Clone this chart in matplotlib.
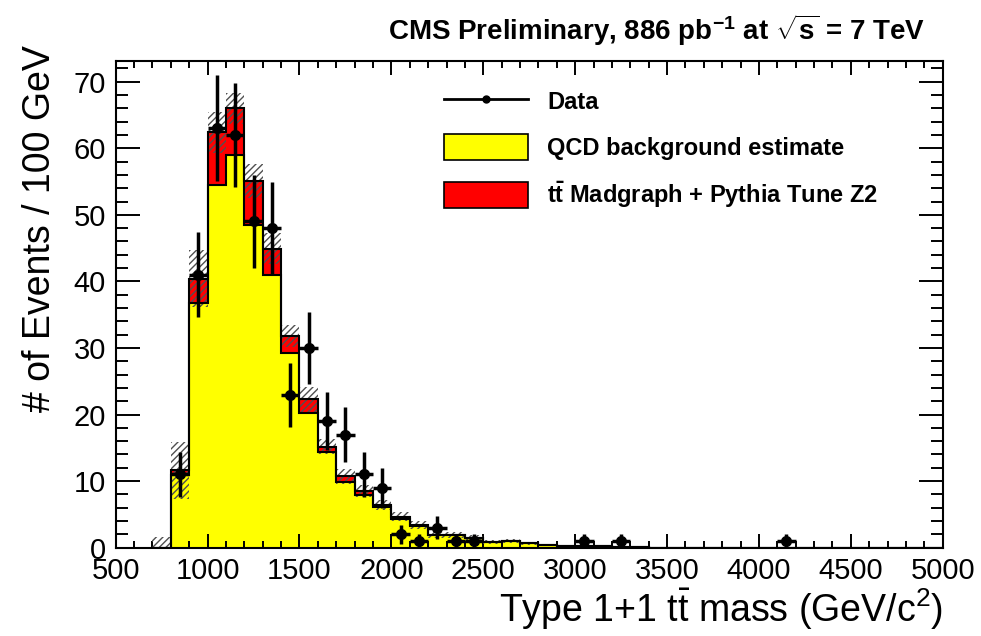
import numpy as np
import matplotlib
matplotlib.use("Agg")
import matplotlib.pyplot as plt
from matplotlib.patches import Patch
from matplotlib.lines import Line2D
from matplotlib.ticker import MultipleLocator

plt.rcParams['font.family'] = ['Liberation Sans', 'DejaVu Sans']
plt.rcParams['mathtext.fontset'] = 'custom'
plt.rcParams['mathtext.rm'] = 'Liberation Sans'
plt.rcParams['mathtext.it'] = 'Liberation Sans:italic'
plt.rcParams['mathtext.bf'] = 'Liberation Sans:bold'
plt.rcParams['hatch.linewidth'] = 1.0

# ---- data (bins of 100 GeV starting at 700 GeV) ----
bin_lo = 700
bin_width = 100
qcd = [0.0, 10.9, 36.7, 54.5, 59.0, 48.4, 40.9, 29.2, 20.3, 14.3, 9.8, 7.9, 6.05,
       4.35, 3.3, 1.85, 1.85, 1.45, 0.9, 1.0, 0.65, 0.4, 0.3, 0.2, 0.2, 0.15, 0.1,
       0, 0, 0, 0, 0, 0, 0, 0, 0, 0, 0, 0, 0, 0, 0, 0]
ttbar = [0.0, 0.7, 3.7, 7.9, 7.0, 6.7, 4.0, 2.6, 2.0, 0.9, 0.9, 0.6, 0.35,
         0.3, 0.1, 0.05, 0.05, 0.05, 0.03, 0.03, 0.02, 0.02, 0.01, 0.01, 0.01, 0.01, 0.0,
         0, 0, 0, 0, 0, 0, 0, 0, 0, 0, 0, 0, 0, 0, 0, 0]
unc = [1.6, 4.3, 4.3, 3.1, 2.3, 2.5, 2.3, 1.7, 1.9, 1.1, 1.1, 0.9, 0.8,
       0.7, 0.6, 0.5, 0.5, 0.4, 0.3, 0.3, 0.25, 0.2, 0.15, 0.1, 0.1, 0.08, 0.05,
       0, 0, 0, 0, 0, 0, 0, 0, 0, 0, 0, 0, 0, 0, 0, 0]
data_x = [850, 950, 1050, 1150, 1250, 1350, 1450, 1550, 1650, 1750, 1850, 1950,
          2050, 2150, 2250, 2350, 2450, 3050, 3250, 4150]
data_y = [11, 41, 63, 62, 49, 48, 23, 30, 19, 17, 11, 9, 2, 1, 3, 1, 1, 1, 1, 1]

qcd = np.array(qcd)
ttbar = np.array(ttbar)
unc = np.array(unc)
edges = bin_lo + bin_width * np.arange(len(qcd) + 1)
total = qcd + ttbar

fig = plt.figure(figsize=(9.81, 6.36), dpi=100)
ax = fig.add_axes([115.7 / 981, 1 - 547.7 / 636, (942.7 - 115.7) / 981, (547.7 - 60.7) / 636])

ax.stairs(qcd, edges, baseline=0, fill=True, color='#ffff00', zorder=1)
ax.stairs(total, edges, baseline=qcd, fill=True, color='#ff0000', zorder=1)
lo = np.maximum(total - unc, 0)
hi = total + unc
ax.bar(edges[:-1], hi - lo, bottom=lo, width=bin_width, align='edge',
       facecolor='none', edgecolor='#505050', hatch='/////', linewidth=0, zorder=2)
ax.stairs(qcd, edges, baseline=0, color='k', linewidth=1.5, zorder=3)
ax.stairs(total, edges, baseline=None, color='k', linewidth=1.5, zorder=3)

dy = np.sqrt(np.array(data_y, dtype=float))
ax.errorbar(data_x, data_y, yerr=dy, xerr=bin_width / 2, fmt='o', color='k',
            ms=7, elinewidth=2.5, capsize=0, zorder=5)

ax.set_xlim(500, 5000)
ax.set_ylim(0, 73.15)
ax.xaxis.set_major_locator(MultipleLocator(500))
ax.xaxis.set_minor_locator(MultipleLocator(100))
ax.yaxis.set_major_locator(MultipleLocator(10))
ax.yaxis.set_minor_locator(MultipleLocator(2))
ax.tick_params(axis='both', which='both', direction='in', top=True, right=True, width=1.4)
ax.tick_params(axis='x', which='major', length=10, pad=7, labelsize=21)
ax.tick_params(axis='x', which='minor', length=5)
ax.tick_params(axis='y', which='major', length=17, pad=7, labelsize=21)
ax.tick_params(axis='y', which='minor', length=8.5)
for s in ax.spines.values():
    s.set_linewidth(1.5)

ax.set_xlabel(r'Type 1+1 $\mathrm{t\bar{t}}$ mass (GeV/c$^2$)', fontsize=27, loc='right', labelpad=1)
ax.set_ylabel('# of Events / 100 GeV', fontsize=27, labelpad=12)
ax.yaxis.set_label_coords(-0.092, 1.03, transform=None)
ax.yaxis.label.set_verticalalignment('center')
ax.yaxis.label.set_horizontalalignment('right')
ax.yaxis.set_label_coords(40 / 981, 1 - 45 / 636, transform=fig.transFigure)

fig.text(925 / 981, 1 - 30 / 636,
         r'CMS Preliminary, 886 pb$^{\mathbf{-1}}$ at $\sqrt{\mathbf{s}}$ = 7 TeV',
         ha='right', va='center', fontsize=20, fontweight='bold')

handles = [Line2D([], [], color='k', lw=2, marker='o', ms=5),
           Patch(facecolor='#ffff00', edgecolor='k', linewidth=1.2),
           Patch(facecolor='#ff0000', edgecolor='k', linewidth=1.2)]
labels = ['Data', 'QCD background estimate', r'$\mathbf{t\bar{t}}$ Madgraph + Pythia Tune Z2']
ax.legend(handles, labels, loc='upper left', bbox_to_anchor=(444 / 981, 1 - 88 / 636),
          bbox_transform=fig.transFigure, frameon=False, borderpad=0, borderaxespad=0,
          handlelength=3.56, handleheight=1.34, labelspacing=0.82, handletextpad=0.8,
          prop={'weight': 'bold', 'size': 17})

fig.savefig('out.png', dpi=100)
